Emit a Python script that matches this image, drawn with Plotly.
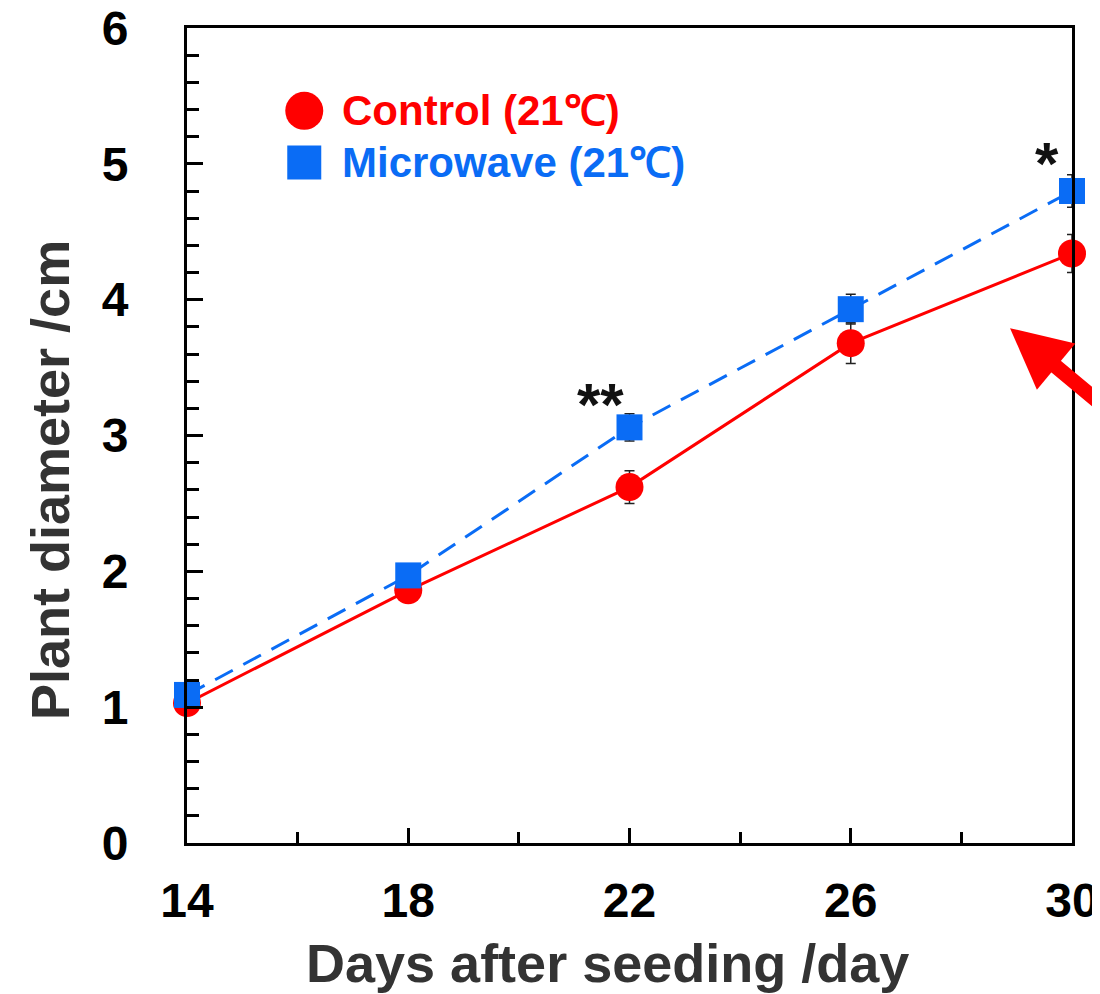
import plotly.graph_objects as go

days = [14, 18, 22, 26, 30]
control = [1.03, 1.86, 2.62, 3.68, 4.34]
control_err = [0.03, 0.04, 0.12, 0.15, 0.14]
microwave = [1.09, 1.97, 3.06, 3.93, 4.80]
microwave_err = [0.04, 0.05, 0.10, 0.11, 0.12]
x_ticks = [14, 18, 22, 26, 30]
y_ticks = [0, 1, 2, 3, 4, 5, 6]

RED = "#FF0000"
BLUE = "#0A6CF5"
FONT = "Liberation Sans, Arial, sans-serif"

fig = go.Figure()
fig.add_trace(go.Scatter(
    x=days, y=control, mode="lines+markers", name="Control (21℃)",
    line=dict(color=RED, width=3),
    marker=dict(symbol="circle", size=28, color=RED),
    error_y=dict(type="data", array=control_err, color="#222", thickness=1.5, width=5),
    cliponaxis=False, showlegend=False))
fig.add_trace(go.Scatter(
    x=days, y=microwave, mode="lines+markers", name="Microwave (21℃)",
    line=dict(color=BLUE, width=3, dash="20px,12px"),
    marker=dict(symbol="square", size=26, color=BLUE),
    error_y=dict(type="data", array=microwave_err, color="#222", thickness=1.5, width=5),
    cliponaxis=False, showlegend=False))

# legend-like key
fig.add_shape(type="circle", xref="x", yref="y", xsizemode="pixel", ysizemode="pixel",
              xanchor=16.12, yanchor=5.39, x0=-19, x1=19, y0=-19, y1=19,
              fillcolor=RED, line=dict(width=0))
fig.add_shape(type="rect", xref="x", yref="y", xsizemode="pixel", ysizemode="pixel",
              xanchor=16.12, yanchor=5.01, x0=-17, x1=17, y0=-17, y1=17,
              fillcolor=BLUE, line=dict(width=0))
fig.add_annotation(x=16.77, y=5.39, xref="x", yref="y", xanchor="left", yanchor="middle",
                   text="<b>Control (21℃)</b>", showarrow=False,
                   font=dict(family=FONT, size=42, color=RED))
fig.add_annotation(x=16.77, y=5.01, xref="x", yref="y", xanchor="left", yanchor="middle",
                   text="<b>Microwave (21℃)</b>", showarrow=False,
                   font=dict(family=FONT, size=42, color=BLUE))

# significance marks
fig.add_annotation(x=29.55, y=5.00, xref="x", yref="y", text="<b>*</b>", showarrow=False,
                   font=dict(family=FONT, size=60, color="#111"))
fig.add_annotation(x=21.47, y=3.23, xref="x", yref="y", text="<b>**</b>", showarrow=False,
                   font=dict(family=FONT, size=60, color="#111"))

# red arrow
fig.add_annotation(x=28.88, y=3.79, xref="x", yref="y", text="", showarrow=True,
                   ax=160, ay=75, arrowcolor=RED, arrowwidth=15, arrowhead=2, arrowsize=0.8)

# axis titles
fig.add_annotation(x=-0.1548, y=0.4454, xref="paper", yref="paper", textangle=-90,
                   xanchor="center", yanchor="middle", showarrow=False,
                   text="<b>Plant diameter /cm</b>", font=dict(family=FONT, size=54, color="#333"))
fig.add_annotation(x=0.4746, y=-0.108, xref="paper", yref="paper",
                   xanchor="center", yanchor="top", showarrow=False,
                   text="<b>Days after seeding /day</b>", font=dict(family=FONT, size=54, color="#333"))

fig.update_layout(
    width=1092, height=986,
    margin=dict(l=179, r=28, t=20, b=151, autoexpand=False),
    paper_bgcolor="white", plot_bgcolor="white",
    font=dict(family=FONT, color="black"),
)
fig.update_xaxes(
    range=[14, 30], tickvals=x_ticks, ticktext=[f"<b>{v}</b>" for v in x_ticks],
    ticks="inside", ticklen=15, tickwidth=2.5, tickcolor="black",
    minor=dict(dtick=2, tick0=14, ticks="inside", ticklen=11, tickwidth=2.5, tickcolor="black"),
    showline=True, linewidth=3, linecolor="black", mirror=True,
    showgrid=False, zeroline=False, automargin=False, ticklabeloverflow="allow",
    tickfont=dict(family=FONT, size=48, color="black"), ticklabelstandoff=13,
)
fig.update_yaxes(
    range=[0, 6], tickvals=y_ticks, ticktext=[f"<b>{v}</b>" for v in y_ticks],
    ticks="inside", ticklen=16, tickwidth=2.5, tickcolor="black",
    minor=dict(dtick=0.2, tick0=0, ticks="inside", ticklen=12, tickwidth=2.5, tickcolor="black"),
    showline=True, linewidth=3, linecolor="black", mirror=True,
    showgrid=False, zeroline=False, automargin=False, ticklabeloverflow="allow",
    tickfont=dict(family=FONT, size=48, color="black"), ticklabelstandoff=46,
)

fig.write_html("out.html")
